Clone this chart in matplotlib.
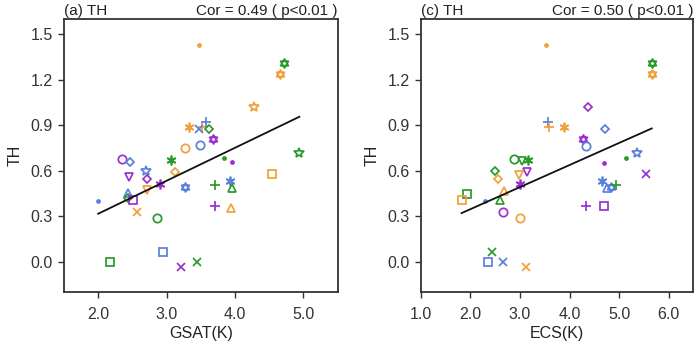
import matplotlib
matplotlib.use("Agg")
import matplotlib.pyplot as plt
from matplotlib.path import Path
import numpy as np

plt.rcParams["font.family"] = ["Liberation Sans", "DejaVu Sans"]

# panel (a): GSAT vs TH
gsat = [3.48, 4.72, 4.65, 4.28, 3.33, 3.52, 3.47, 3.58, 3.62, 3.68, 3.49, 3.27, 3.07, 4.93,
        3.84, 3.96, 2.35, 2.47, 2.70, 3.12, 4.54, 2.45, 2.72, 2.90, 2.71, 3.27, 3.71, 3.92,
        3.96, 3.71, 3.94, 2.00, 2.43, 2.43, 2.51, 2.56, 2.86, 2.17, 2.95, 3.21, 3.44]
th_a = [1.43, 1.31, 1.24, 1.02, 0.89, 0.89, 0.874, 0.92, 0.874, 0.81, 0.77, 0.75, 0.667, 0.715,
        0.684, 0.656, 0.675, 0.66, 0.596, 0.591, 0.58, 0.56, 0.548, 0.514, 0.472, 0.492, 0.505, 0.532,
        0.483, 0.366, 0.355, 0.40, 0.455, 0.42, 0.404, 0.326, 0.289, 0.0, 0.064, -0.035, -0.002]
col_a = ["orange", "green", "orange", "orange", "orange", "orange", "blue", "blue", "green", "purple",
         "blue", "orange", "green", "green", "green", "purple", "purple", "blue", "blue", "orange",
         "orange", "purple", "purple", "purple", "orange", "blue", "green", "blue", "green", "purple",
         "orange", "blue", "blue", "green", "purple", "orange", "green", "green", "blue", "purple", "green"]
mk_a = ["dot", "hex", "hex", "star", "ast", "plus", "x", "plus", "diamond", "hex",
        "circle", "circle", "ast", "star", "dot", "dot", "circle", "diamond", "star", "diamond",
        "square", "tri_down", "diamond", "ast", "tri_down", "hex", "plus", "ast", "tri_up", "plus",
        "tri_up", "dot", "tri_up", "diamond", "square", "x", "circle", "square", "square", "x", "x"]
fit_a_x = [2.0, 4.94]
fit_a_y = [0.316, 0.955]

# panel (c): ECS vs TH
ecs = [3.52, 5.66, 5.66, 4.37, 3.56, 3.58, 3.88, 4.72, 4.27, 4.34, 5.37, 5.15, 4.69, 2.87,
       3.04, 3.17, 2.50, 3.14, 2.97, 5.55, 2.56, 3.00, 2.67, 1.93, 1.82, 2.30, 2.60, 2.65,
       2.99, 4.66, 4.76, 4.83, 4.93, 4.34, 4.70, 2.43, 2.36, 2.65, 3.13]
th_c = [1.43, 1.31, 1.24, 1.02, 0.92, 0.885, 0.89, 0.876, 0.81, 0.763, 0.713, 0.684, 0.653, 0.675,
        0.662, 0.669, 0.596, 0.59, 0.57, 0.58, 0.548, 0.51, 0.466, 0.448, 0.404, 0.40, 0.404, 0.326,
        0.289, 0.53, 0.485, 0.49, 0.503, 0.364, 0.364, 0.062, 0.0, -0.005, -0.038]
col_c = ["orange", "green", "orange", "purple", "blue", "orange", "orange", "blue", "purple", "blue",
         "blue", "green", "purple", "green", "green", "green", "green", "purple", "orange", "purple",
         "orange", "purple", "orange", "green", "orange", "blue", "green", "purple", "orange", "blue",
         "blue", "blue", "green", "purple", "purple", "green", "blue", "blue", "orange"]
mk_c = ["dot", "hex", "hex", "diamond", "plus", "plus", "ast", "diamond", "hex", "circle",
        "star", "dot", "dot", "circle", "tri_down", "ast", "diamond", "tri_down", "tri_down", "x",
        "diamond", "ast", "tri_up", "square", "square", "dot", "tri_up", "circle", "circle", "ast",
        "tri_up", "hex", "plus", "plus", "square", "x", "square", "x", "x"]
fit_c_x = [1.82, 5.66]
fit_c_y = [0.32, 0.878]

colors = {"orange": "#f2a03a", "green": "#2a9a2a", "blue": "#5a80de", "purple": "#9a30d2"}


def hexagram():
    ang_up = np.deg2rad([90, 210, 330, 90])
    ang_dn = np.deg2rad([270, 30, 150, 270])
    verts = list(zip(np.cos(ang_up), np.sin(ang_up))) + list(zip(np.cos(ang_dn), np.sin(ang_dn)))
    codes = [Path.MOVETO, Path.LINETO, Path.LINETO, Path.CLOSEPOLY] * 2
    return Path(verts, codes)


markers = {
    "dot": ("o", 2.2, True),
    "plus": ("+", 7, False),
    "ast": ((6, 2, 0), 7, False),
    "x": ("x", 6, False),
    "circle": ("o", 6, False),
    "square": ("s", 6, False),
    "tri_up": ("^", 6, False),
    "tri_down": ("v", 6, False),
    "diamond": ("D", 4.5, False),
    "star": ("*", 7.5, False),
    "hex": (hexagram(), 6.5, False),
}


def panel(ax, xs, ys, cols, mks, fx, fy, xlim, xticks, xlabel, title, cor):
    for x, y, c, m in zip(xs, ys, cols, mks):
        marker, size, filled = markers[m]
        ax.plot(x, y, ls="none", marker=marker, ms=size, mew=1.25,
                mec=colors[c], mfc=colors[c] if filled else "none")
    ax.plot(fx, fy, color="#111111", lw=1.3)
    ax.set_xlim(*xlim)
    ax.set_ylim(-0.2, 1.6)
    ax.set_xticks(xticks)
    ax.set_xticklabels([f"{t:.1f}" for t in xticks])
    ax.set_yticks([0.0, 0.3, 0.6, 0.9, 1.2, 1.5])
    ax.set_yticklabels(["0.0", "0.3", "0.6", "0.9", "1.2", "1.5"])
    ax.tick_params(direction="out", length=4, width=1, colors="#333333", labelsize=11.5,
                   top=False, right=False)
    ax.tick_params(axis="x", pad=7)
    ax.tick_params(axis="y", pad=4)
    for s in ax.spines.values():
        s.set_color("#333333")
        s.set_linewidth(1.3)
    ax.set_xlabel(xlabel, fontsize=11.5, labelpad=3, color="#222222")
    ax.set_ylabel("TH", fontsize=11.5, labelpad=6, color="#222222")
    ax.set_title(title, loc="left", fontsize=11, pad=3, color="#222222")
    ax.set_title(cor, loc="right", fontsize=11, pad=3, color="#222222")


fig = plt.figure(figsize=(7, 3.47), dpi=100)
ax1 = fig.add_axes([0.0914, 0.1585, 0.391, 0.787])
ax2 = fig.add_axes([0.6014, 0.1585, 0.389, 0.787])

panel(ax1, gsat, th_a, col_a, mk_a, fit_a_x, fit_a_y, (1.5, 5.5), [2.0, 3.0, 4.0, 5.0],
      "GSAT(K)", "(a) TH", "Cor = 0.49 ( p<0.01 )")
panel(ax2, ecs, th_c, col_c, mk_c, fit_c_x, fit_c_y, (1.0, 6.5), [1.0, 2.0, 3.0, 4.0, 5.0, 6.0],
      "ECS(K)", "(c) TH", "Cor = 0.50 ( p<0.01 )")

fig.savefig("out.png", dpi=100)
